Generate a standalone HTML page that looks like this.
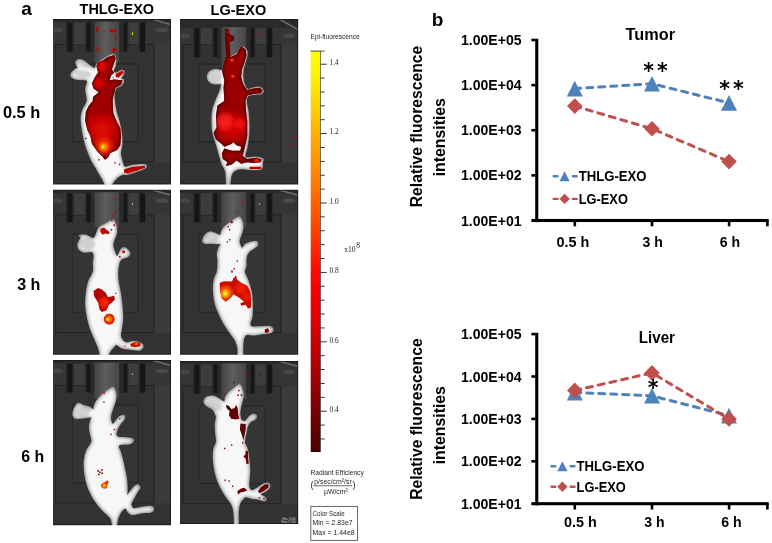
<!DOCTYPE html>
<html><head><meta charset="utf-8"><title>Figure</title>
<style>html,body{margin:0;padding:0;background:#fff;overflow:hidden}svg{display:block}</style></head><body>
<svg width="772" height="543" viewBox="0 0 772 543">
<rect width="772" height="543" fill="#fff"/>
<defs><filter id="blur" x="-5%" y="-5%" width="110%" height="110%"><feGaussianBlur stdDeviation="0.55"/></filter>
<filter id="shade" x="-10%" y="-10%" width="120%" height="120%" color-interpolation-filters="sRGB">
<feGaussianBlur in="SourceAlpha" stdDeviation="2" result="b"/>
<feColorMatrix in="b" type="matrix" values="0 0 0 0.72 0.25  0 0 0 0.72 0.25  0 0 0 0.72 0.25  0 0 0 0 1" result="c"/>
<feComposite in="c" in2="SourceAlpha" operator="in"/>
</filter><filter id="soft" x="-20%" y="-20%" width="140%" height="140%"><feGaussianBlur stdDeviation="0.9"/></filter></defs>
<clipPath id="pc0"><rect x="53.0" y="19.1" width="118.0" height="165.3"/></clipPath>
<g clip-path="url(#pc0)"><g filter="url(#blur)">
<rect x="49.0" y="15.100000000000001" width="126.0" height="173.3" fill="#353535"/>
<rect x="49.0" y="15.100000000000001" width="126.0" height="29.2" fill="#363636"/>
<rect x="49.0" y="15.100000000000001" width="126.0" height="7.2" fill="#2a2a2a"/>
<ellipse cx="162.0" cy="30.1" rx="6.5" ry="2.2" fill="#494949"/>
<ellipse cx="58.0" cy="30.1" rx="5" ry="2.5" fill="#454545"/>
<line x1="153.0" y1="19.6" x2="173.0" y2="25.1" stroke="#6c6c6c" stroke-width="1.6"/>
<rect x="154.00" y="44.30" width="21.00" height="144.10" fill="#3a3a3a"/>
<rect x="55.60" y="44.30" width="98.40" height="117.80" fill="#313131" stroke="#202020" stroke-width="0.9"/>
<rect x="49.00" y="162.50" width="126.00" height="26.90" fill="#303030"/>
<rect x="72.80" y="64.10" width="65.20" height="77.50" fill="#343434" stroke="#262626" stroke-width="0.9"/>
<rect x="73.60" y="22.90" width="11.40" height="21.40" fill="#3c3c3c"/>
<rect x="128.00" y="22.90" width="10.60" height="21.40" fill="#3c3c3c"/>
<rect x="90.50" y="22.90" width="32.10" height="29.20" fill="#2b2b2b"/>
<rect x="66.00" y="22.70" width="7.60" height="29.30" fill="#2a2a2a"/>
<rect x="67.40" y="22.70" width="5.00" height="28.70" fill="#151515"/>
<rect x="85.20" y="22.70" width="6.40" height="29.30" fill="#2a2a2a"/>
<rect x="86.60" y="22.70" width="3.80" height="28.70" fill="#151515"/>
<rect x="122.20" y="22.70" width="6.20" height="29.30" fill="#2a2a2a"/>
<rect x="123.60" y="22.70" width="3.60" height="28.70" fill="#151515"/>
<rect x="138.80" y="22.70" width="7.20" height="29.30" fill="#2a2a2a"/>
<rect x="140.20" y="22.70" width="4.60" height="28.70" fill="#151515"/>
<linearGradient id="u1" x1="0" x2="1" y1="0" y2="0"><stop offset="0" stop-color="#424242"/><stop offset="0.45" stop-color="#5e5e5e"/><stop offset="1" stop-color="#454545"/></linearGradient>
 <rect x="94.30" y="21.60" width="24.8" height="40.30" fill="url(#u1)"/>
<path d="M53.0,19.5 H170.6 V184.0 H53.0" fill="none" stroke="#1c1c1c" stroke-width="1"/>
<path d="M113.38,54.46 C114.65,54.97 115.42,57.52 115.67,59.51 C115.92,61.50 115.37,64.48 114.91,66.39 C114.45,68.30 112.74,69.80 112.92,70.97 C113.10,72.14 114.50,73.52 115.98,73.42 C117.46,73.32 120.47,70.51 121.79,70.36 C123.12,70.21 124.24,71.17 123.93,72.5 C123.62,73.83 121.33,77.39 119.95,78.31 C118.57,79.23 116.84,78.36 115.67,78.0 C114.50,77.64 113.63,76.17 112.92,76.17 C112.21,76.17 111.19,77.52 111.39,78.0 C111.59,78.48 112.20,78.79 114.14,79.07 C116.08,79.35 121.79,78.69 123.01,79.68 C124.23,80.67 122.65,83.63 121.48,85.03 C120.31,86.43 117.25,86.36 115.98,88.09 C114.71,89.82 113.89,91.75 113.84,95.43 C113.79,99.11 114.86,105.93 115.67,110.17 C116.48,114.41 117.84,117.30 118.73,120.87 C119.62,124.44 120.51,127.75 121.02,131.57 C121.53,135.39 121.92,140.23 121.79,143.8 C121.66,147.37 120.26,150.17 120.26,152.97 C120.26,155.77 121.08,158.19 121.79,160.61 C122.50,163.03 122.76,166.67 124.54,167.49 C126.32,168.31 129.13,165.94 132.49,165.51 C135.85,165.08 142.50,164.56 144.72,164.89 C146.94,165.22 146.81,166.55 145.79,167.49 C144.77,168.43 141.58,169.45 138.6,170.55 C135.62,171.65 130.45,173.48 127.9,174.07 C125.35,174.66 124.84,173.71 123.31,174.07 C121.78,174.43 120.26,175.14 118.73,176.21 C117.20,177.28 115.29,179.19 114.14,180.49 C112.99,181.79 112.36,182.98 111.85,184.0 C111.34,185.02 112.11,186.17 111.09,186.6 C110.07,187.03 106.76,187.03 105.74,186.6 C104.72,186.17 105.48,185.27 104.97,184.0 C104.46,182.73 103.95,181.33 102.68,178.96 C101.41,176.59 99.24,173.10 97.33,169.79 C95.42,166.48 93.12,163.17 91.21,159.09 C89.30,155.01 87.26,149.92 85.86,145.33 C84.46,140.74 83.57,135.90 82.81,131.57 C82.05,127.24 81.28,122.91 81.28,119.34 C81.28,115.77 81.79,113.23 82.81,110.17 C83.83,107.11 86.88,104.48 87.39,101.0 C87.90,97.52 85.86,92.79 85.86,89.31 C85.86,85.83 89.05,81.87 87.39,80.14 C85.73,78.41 78.55,79.48 75.93,78.92 C73.31,78.36 72.42,77.65 71.65,76.78 C70.89,75.91 70.88,74.81 71.34,73.72 C71.80,72.62 73.25,71.23 74.4,70.21 C75.55,69.19 77.97,68.76 78.22,67.61 C78.47,66.46 75.93,64.60 75.93,63.33 C75.93,62.06 76.95,60.35 78.22,59.97 C79.49,59.59 81.53,59.97 83.57,61.04 C85.61,62.11 88.54,65.12 90.45,66.39 C92.36,67.66 93.89,69.19 95.04,68.68 C96.19,68.17 95.93,64.86 97.33,63.33 C98.73,61.80 101.66,60.66 103.44,59.51 C105.22,58.36 106.37,57.29 108.03,56.45 C109.69,55.61 112.11,53.95 113.38,54.46Z" fill="#f4f4f4" stroke="#f4f4f4" stroke-width="1.6" stroke-linejoin="round" filter="url(#shade)"/>
<ellipse cx="82.81" cy="74.03" rx="8.41" ry="3.67" transform="rotate(5 82.81 74.03)" fill="#808080" opacity="0.32" filter="url(#soft)"/>
<ellipse cx="83.57" cy="64.55" rx="6.11" ry="2.14" transform="rotate(25 83.57 64.55)" fill="#808080" opacity="0.32" filter="url(#soft)"/>
<clipPath id="u2"><path d="M97.33,62.56 L103.44,60.27 L107.26,57.21 L114.14,54.92 L115.67,58.74 L113.38,64.86 L111.85,69.44 L114.14,72.5 L111.09,75.56 L109.56,80.14 L114.14,79.38 L122.55,80.14 L121.02,84.73 L115.67,87.79 L113.38,95.43 L112.61,100.93 L113.38,113.23 L116.44,120.87 L120.26,128.51 L121.02,136.16 L120.26,145.33 L117.2,149.91 L110.32,152.97 L108.03,157.56 L104.97,159.85 L101.91,156.03 L97.33,151.44 L91.98,143.8 L90.45,136.16 L87.39,130.04 L85.1,120.87 L85.86,111.7 L88.92,105.59 L92.74,101.0 L93.05,96.96 L98.86,92.37 L93.51,88.55 L91.98,83.2 L95.04,77.09 L98.09,72.5 L96.56,66.39Z"/></clipPath>
<path d="M97.33,62.56 L103.44,60.27 L107.26,57.21 L114.14,54.92 L115.67,58.74 L113.38,64.86 L111.85,69.44 L114.14,72.5 L111.09,75.56 L109.56,80.14 L114.14,79.38 L122.55,80.14 L121.02,84.73 L115.67,87.79 L113.38,95.43 L112.61,100.93 L113.38,113.23 L116.44,120.87 L120.26,128.51 L121.02,136.16 L120.26,145.33 L117.2,149.91 L110.32,152.97 L108.03,157.56 L104.97,159.85 L101.91,156.03 L97.33,151.44 L91.98,143.8 L90.45,136.16 L87.39,130.04 L85.1,120.87 L85.86,111.7 L88.92,105.59 L92.74,101.0 L93.05,96.96 L98.86,92.37 L93.51,88.55 L91.98,83.2 L95.04,77.09 L98.09,72.5 L96.56,66.39Z" fill="#a00000"/>
<path d="M97.33,62.56 L103.44,60.27 L107.26,57.21 L114.14,54.92 L115.67,58.74 L113.38,64.86 L111.85,69.44 L114.14,72.5 L111.09,75.56 L109.56,80.14 L114.14,79.38 L122.55,80.14 L121.02,84.73 L115.67,87.79 L113.38,95.43 L112.61,100.93 L113.38,113.23 L116.44,120.87 L120.26,128.51 L121.02,136.16 L120.26,145.33 L117.2,149.91 L110.32,152.97 L108.03,157.56 L104.97,159.85 L101.91,156.03 L97.33,151.44 L91.98,143.8 L90.45,136.16 L87.39,130.04 L85.1,120.87 L85.86,111.7 L88.92,105.59 L92.74,101.0 L93.05,96.96 L98.86,92.37 L93.51,88.55 L91.98,83.2 L95.04,77.09 L98.09,72.5 L96.56,66.39Z" fill="none" stroke="#5a0000" stroke-width="3" stroke-linejoin="round" clip-path="url(#u2)" filter="url(#soft)"/>
<g clip-path="url(#u2)">
<radialGradient id="u3"><stop offset="0" stop-color="#dc0800"/><stop offset="0.5" stop-color="#dc0800" stop-opacity="0.75"/><stop offset="1" stop-color="#dc0800" stop-opacity="0"/></radialGradient>
<circle cx="101.91" cy="130.04" r="19.87" fill="url(#u3)"/>
<radialGradient id="u4"><stop offset="0" stop-color="#ff3000"/><stop offset="0.5" stop-color="#ff3000" stop-opacity="0.75"/><stop offset="1" stop-color="#ff3000" stop-opacity="0"/></radialGradient>
<circle cx="104.21" cy="146.09" r="11.01" fill="url(#u4)"/>
<radialGradient id="u5"><stop offset="0" stop-color="#ff9000"/><stop offset="0.5" stop-color="#ff9000" stop-opacity="0.75"/><stop offset="1" stop-color="#ff9000" stop-opacity="0"/></radialGradient>
<circle cx="103.75" cy="146.86" r="5.81" fill="url(#u5)"/>
<radialGradient id="u6"><stop offset="0" stop-color="#ffee00"/><stop offset="0.5" stop-color="#ffee00" stop-opacity="0.75"/><stop offset="1" stop-color="#ffee00" stop-opacity="0"/></radialGradient>
<circle cx="102.83" cy="146.86" r="2.6" fill="url(#u6)"/>
<radialGradient id="u7"><stop offset="0" stop-color="#e80000"/><stop offset="0.5" stop-color="#e80000" stop-opacity="0.75"/><stop offset="1" stop-color="#e80000" stop-opacity="0"/></radialGradient>
<circle cx="101.91" cy="66.39" r="6.88" fill="url(#u7)"/>
<radialGradient id="u8"><stop offset="0" stop-color="#e00000"/><stop offset="0.5" stop-color="#e00000" stop-opacity="0.75"/><stop offset="1" stop-color="#e00000" stop-opacity="0"/></radialGradient>
<circle cx="98.86" cy="83.2" r="6.88" fill="url(#u8)"/>
</g>
<clipPath id="u9"><path d="M115.67,74.03 L121.79,70.67 L123.62,72.5 L118.73,77.85 L115.67,77.09Z"/></clipPath>
<path d="M115.67,74.03 L121.79,70.67 L123.62,72.5 L118.73,77.85 L115.67,77.09Z" fill="#c00000"/>
<clipPath id="u10"><path d="M124.08,169.33 L132.49,166.73 L144.72,165.66 L145.02,167.8 L137.84,170.55 L127.9,173.61 L124.08,172.84Z"/></clipPath>
<path d="M124.08,169.33 L132.49,166.73 L144.72,165.66 L145.02,167.8 L137.84,170.55 L127.9,173.61 L124.08,172.84Z" fill="#b80000"/>
<clipPath id="u11"><path d="M96.56,26.95 L98.25,26.34 L98.86,29.7 L97.63,33.06 L96.41,31.99Z"/></clipPath>
<path d="M96.56,26.95 L98.25,26.34 L98.86,29.7 L97.63,33.06 L96.41,31.99Z" fill="#c00000"/>
<clipPath id="u12"><path d="M108.79,30.01 L111.85,29.09 L115.98,29.7 L116.59,31.84 L113.38,32.45 L109.86,31.84Z"/></clipPath>
<path d="M108.79,30.01 L111.85,29.09 L115.98,29.7 L116.59,31.84 L113.38,32.45 L109.86,31.84Z" fill="#c00000"/>
<clipPath id="u13"><path d="M114.45,34.29 L115.98,34.9 L116.59,39.18 L115.06,39.79Z"/></clipPath>
<path d="M114.45,34.29 L115.98,34.9 L116.59,39.18 L115.06,39.79Z" fill="#c00000"/>
<clipPath id="u14"><path d="M96.41,46.51 L98.55,47.13 L98.86,51.41 L97.02,52.02Z"/></clipPath>
<path d="M96.41,46.51 L98.55,47.13 L98.86,51.41 L97.02,52.02Z" fill="#c00000"/>
<clipPath id="u15"><path d="M112.61,48.35 L115.98,47.74 L116.59,51.1 L114.14,52.93 L112.31,51.41Z"/></clipPath>
<path d="M112.61,48.35 L115.98,47.74 L116.59,51.1 L114.14,52.93 L112.31,51.41Z" fill="#c00000"/>
<clipPath id="u16"><path d="M103.44,30.46 L104.67,30.46 L104.67,32.76 L103.44,32.76Z"/></clipPath>
<path d="M103.44,30.46 L104.67,30.46 L104.67,32.76 L103.44,32.76Z" fill="#c00000"/>
<clipPath id="u17"><path d="M131.87,32.45 L133.1,32.45 L133.1,34.9 L131.87,34.9Z"/></clipPath>
<path d="M131.87,32.45 L133.1,32.45 L133.1,34.9 L131.87,34.9Z" fill="#e0e000"/>
<rect x="98.16" y="159.15" width="1.4" height="1.4" fill="#900000"/>
<rect x="114.21" y="162.21" width="1.4" height="1.4" fill="#900000"/>
<rect x="118.79" y="163.74" width="1.4" height="1.4" fill="#900000"/>
<rect x="85.16" y="137.75" width="1.4" height="1.4" fill="#900000"/>
</g></g>
<clipPath id="pc1"><rect x="180" y="19.1" width="118.2" height="165.3"/></clipPath>
<g clip-path="url(#pc1)"><g filter="url(#blur)">
<rect x="176" y="15.100000000000001" width="126.2" height="173.3" fill="#353535"/>
<rect x="176" y="15.100000000000001" width="126.2" height="29.2" fill="#363636"/>
<rect x="176" y="15.100000000000001" width="126.2" height="12.8" fill="#2a2a2a"/>
<ellipse cx="289" cy="35.7" rx="6.5" ry="2.2" fill="#494949"/>
<ellipse cx="185" cy="35.7" rx="5" ry="2.5" fill="#454545"/>
<line x1="280" y1="19.6" x2="300.2" y2="30.700000000000003" stroke="#6c6c6c" stroke-width="1.6"/>
<rect x="281.00" y="44.30" width="21.20" height="144.10" fill="#3a3a3a"/>
<rect x="182.60" y="44.30" width="98.40" height="117.80" fill="#313131" stroke="#202020" stroke-width="0.9"/>
<rect x="176.00" y="162.50" width="126.20" height="26.90" fill="#303030"/>
<rect x="199.80" y="64.10" width="65.20" height="77.50" fill="#343434" stroke="#262626" stroke-width="0.9"/>
<rect x="200.60" y="28.50" width="11.40" height="15.80" fill="#3c3c3c"/>
<rect x="255.00" y="28.50" width="10.60" height="15.80" fill="#3c3c3c"/>
<rect x="217.50" y="28.50" width="32.10" height="29.20" fill="#2b2b2b"/>
<rect x="193.00" y="28.30" width="7.60" height="29.30" fill="#2a2a2a"/>
<rect x="194.40" y="28.30" width="5.00" height="28.70" fill="#151515"/>
<rect x="212.20" y="28.30" width="6.40" height="29.30" fill="#2a2a2a"/>
<rect x="213.60" y="28.30" width="3.80" height="28.70" fill="#151515"/>
<rect x="249.20" y="28.30" width="6.20" height="29.30" fill="#2a2a2a"/>
<rect x="250.60" y="28.30" width="3.60" height="28.70" fill="#151515"/>
<rect x="265.80" y="28.30" width="7.20" height="29.30" fill="#2a2a2a"/>
<rect x="267.20" y="28.30" width="4.60" height="28.70" fill="#151515"/>
<linearGradient id="u18" x1="0" x2="1" y1="0" y2="0"><stop offset="0" stop-color="#424242"/><stop offset="0.45" stop-color="#5e5e5e"/><stop offset="1" stop-color="#454545"/></linearGradient>
 <rect x="221.30" y="27.20" width="24.8" height="40.30" fill="url(#u18)"/>
<path d="M180,19.5 H297.8 V184.0 H180" fill="none" stroke="#1c1c1c" stroke-width="1"/>
<path d="M241.14,47.28 C242.72,46.57 245.09,48.17 246.03,49.57 C246.97,50.97 247.05,53.40 246.8,55.69 C246.55,57.98 245.15,61.04 244.51,63.33 C243.87,65.62 243.29,67.15 242.98,69.44 C242.67,71.73 242.47,74.54 242.67,77.09 C242.87,79.64 243.38,82.64 244.2,84.73 C245.01,86.82 246.03,89.06 247.56,89.62 C249.09,90.18 251.38,88.45 253.37,88.09 C255.36,87.73 257.91,87.15 259.49,87.48 C261.07,87.81 262.55,89.09 262.85,90.08 C263.16,91.07 262.90,92.75 261.32,93.44 C259.74,94.13 255.66,93.83 253.37,94.21 C251.08,94.59 248.78,94.61 247.56,95.73 C246.34,96.85 245.95,98.01 246.03,100.93 C246.11,103.85 247.56,108.89 248.02,113.23 C248.48,117.57 248.79,122.66 248.79,126.99 C248.79,131.32 248.40,135.64 248.02,139.21 C247.64,142.78 247.08,145.59 246.49,148.39 C245.91,151.19 244.38,154.38 244.51,156.03 C244.64,157.69 245.53,158.12 247.26,158.32 C248.99,158.52 252.30,157.12 254.9,157.25 C257.50,157.38 261.65,158.28 262.85,159.09 C264.05,159.91 262.33,160.56 262.08,162.14 C261.82,163.72 263.03,167.36 261.32,168.56 C259.61,169.76 255.20,169.33 251.84,169.33 C248.48,169.33 243.94,168.43 241.14,168.56 C238.34,168.69 236.69,169.12 235.03,170.09 C233.38,171.06 232.10,172.05 231.21,174.37 C230.32,176.69 229.94,181.96 229.68,184.0 C229.43,186.04 230.19,186.17 229.68,186.6 C229.17,187.03 227.13,187.03 226.62,186.6 C226.11,186.17 226.75,186.55 226.62,184.0 C226.49,181.45 226.62,174.70 225.86,171.31 C225.10,167.92 223.19,166.73 222.04,163.67 C220.89,160.61 220.00,156.54 218.98,152.97 C217.96,149.40 216.94,145.84 215.92,142.27 C214.90,138.70 213.50,135.14 212.86,131.57 C212.22,128.00 212.10,124.44 212.1,120.87 C212.10,117.30 212.22,113.48 212.86,110.17 C213.50,106.86 214.70,104.22 215.92,101.0 C217.14,97.78 219.23,93.81 220.2,90.84 C221.17,87.87 221.93,84.42 221.73,83.2 C221.53,81.98 220.46,83.46 218.98,83.51 C217.50,83.56 214.52,83.94 212.86,83.51 C211.20,83.08 209.93,82.11 209.04,80.91 C208.15,79.71 207.38,77.85 207.51,76.32 C207.64,74.79 208.41,72.89 209.81,71.74 C211.21,70.59 213.88,69.62 215.92,69.44 C217.96,69.26 220.64,71.43 222.04,70.67 C223.44,69.91 223.69,66.97 224.33,64.86 C224.97,62.74 224.84,59.30 225.86,57.98 C226.88,56.65 228.66,57.60 230.44,56.91 C232.22,56.22 234.78,55.45 236.56,53.85 C238.34,52.25 239.56,47.99 241.14,47.28Z" fill="#f4f4f4" stroke="#f4f4f4" stroke-width="1.6" stroke-linejoin="round" filter="url(#shade)"/>
<ellipse cx="215.92" cy="76.78" rx="6.42" ry="5.20" transform="rotate(0 215.92 76.78)" fill="#808080" opacity="0.32" filter="url(#soft)"/>
<clipPath id="u19"><path d="M225.09,28.94 L228.91,29.39 L229.22,34.29 L234.26,36.58 L233.5,40.4 L229.22,41.93 L229.98,49.57 L230.44,57.21 L236.56,54.16 L238.85,49.57 L241.14,46.51 L245.73,49.57 L246.49,55.69 L244.2,63.33 L241.91,69.44 L241.14,77.09 L243.44,84.73 L247.26,90.08 L253.37,88.55 L259.49,87.79 L262.54,90.08 L261.01,93.14 L253.37,93.9 L247.26,95.43 L245.42,100.93 L245.73,108.64 L247.26,120.87 L247.26,136.16 L244.96,146.86 L242.67,156.03 L247.26,159.09 L256.43,157.86 L261.78,159.85 L260.25,162.14 L253.37,162.91 L247.26,162.14 L241.14,163.67 L236.56,160.61 L231.97,164.44 L225.86,165.96 L227.39,162.14 L222.8,159.09 L222.04,152.97 L224.33,148.39 L231.97,150.68 L240.38,150.68 L241.14,146.86 L236.56,145.33 L233.5,142.27 L230.44,144.56 L224.33,146.86 L221.27,143.8 L215.92,139.21 L213.63,133.1 L216.69,126.99 L215.92,116.29 L217.45,105.59 L224.33,101.0 L223.56,87.79 L224.33,80.14 L222.04,70.97 L225.09,57.98 L226.62,56.45 L225.86,51.86 L225.4,41.93 L225.09,34.29Z"/></clipPath>
<path d="M225.09,28.94 L228.91,29.39 L229.22,34.29 L234.26,36.58 L233.5,40.4 L229.22,41.93 L229.98,49.57 L230.44,57.21 L236.56,54.16 L238.85,49.57 L241.14,46.51 L245.73,49.57 L246.49,55.69 L244.2,63.33 L241.91,69.44 L241.14,77.09 L243.44,84.73 L247.26,90.08 L253.37,88.55 L259.49,87.79 L262.54,90.08 L261.01,93.14 L253.37,93.9 L247.26,95.43 L245.42,100.93 L245.73,108.64 L247.26,120.87 L247.26,136.16 L244.96,146.86 L242.67,156.03 L247.26,159.09 L256.43,157.86 L261.78,159.85 L260.25,162.14 L253.37,162.91 L247.26,162.14 L241.14,163.67 L236.56,160.61 L231.97,164.44 L225.86,165.96 L227.39,162.14 L222.8,159.09 L222.04,152.97 L224.33,148.39 L231.97,150.68 L240.38,150.68 L241.14,146.86 L236.56,145.33 L233.5,142.27 L230.44,144.56 L224.33,146.86 L221.27,143.8 L215.92,139.21 L213.63,133.1 L216.69,126.99 L215.92,116.29 L217.45,105.59 L224.33,101.0 L223.56,87.79 L224.33,80.14 L222.04,70.97 L225.09,57.98 L226.62,56.45 L225.86,51.86 L225.4,41.93 L225.09,34.29Z" fill="#980000"/>
<path d="M225.09,28.94 L228.91,29.39 L229.22,34.29 L234.26,36.58 L233.5,40.4 L229.22,41.93 L229.98,49.57 L230.44,57.21 L236.56,54.16 L238.85,49.57 L241.14,46.51 L245.73,49.57 L246.49,55.69 L244.2,63.33 L241.91,69.44 L241.14,77.09 L243.44,84.73 L247.26,90.08 L253.37,88.55 L259.49,87.79 L262.54,90.08 L261.01,93.14 L253.37,93.9 L247.26,95.43 L245.42,100.93 L245.73,108.64 L247.26,120.87 L247.26,136.16 L244.96,146.86 L242.67,156.03 L247.26,159.09 L256.43,157.86 L261.78,159.85 L260.25,162.14 L253.37,162.91 L247.26,162.14 L241.14,163.67 L236.56,160.61 L231.97,164.44 L225.86,165.96 L227.39,162.14 L222.8,159.09 L222.04,152.97 L224.33,148.39 L231.97,150.68 L240.38,150.68 L241.14,146.86 L236.56,145.33 L233.5,142.27 L230.44,144.56 L224.33,146.86 L221.27,143.8 L215.92,139.21 L213.63,133.1 L216.69,126.99 L215.92,116.29 L217.45,105.59 L224.33,101.0 L223.56,87.79 L224.33,80.14 L222.04,70.97 L225.09,57.98 L226.62,56.45 L225.86,51.86 L225.4,41.93 L225.09,34.29Z" fill="none" stroke="#560000" stroke-width="3" stroke-linejoin="round" clip-path="url(#u19)" filter="url(#soft)"/>
<g clip-path="url(#u19)">
<radialGradient id="u20"><stop offset="0" stop-color="#d40000"/><stop offset="0.5" stop-color="#d40000" stop-opacity="0.75"/><stop offset="1" stop-color="#d40000" stop-opacity="0"/></radialGradient>
<circle cx="231.97" cy="126.99" r="18.34" fill="url(#u20)"/>
<radialGradient id="u21"><stop offset="0" stop-color="#ff2020"/><stop offset="0.5" stop-color="#ff2020" stop-opacity="0.75"/><stop offset="1" stop-color="#ff2020" stop-opacity="0"/></radialGradient>
<circle cx="225.09" cy="121.64" r="11.01" fill="url(#u21)"/>
<radialGradient id="u22"><stop offset="0" stop-color="#f01010"/><stop offset="0.5" stop-color="#f01010" stop-opacity="0.75"/><stop offset="1" stop-color="#f01010" stop-opacity="0"/></radialGradient>
<circle cx="239.61" cy="123.93" r="7.34" fill="url(#u22)"/>
<radialGradient id="u23"><stop offset="0" stop-color="#ff2000"/><stop offset="0.5" stop-color="#ff2000" stop-opacity="0.75"/><stop offset="1" stop-color="#ff2000" stop-opacity="0"/></radialGradient>
<circle cx="256.43" cy="160.61" r="3.06" fill="url(#u23)"/>
<radialGradient id="u24"><stop offset="0" stop-color="#ff3030"/><stop offset="0.5" stop-color="#ff3030" stop-opacity="0.75"/><stop offset="1" stop-color="#ff3030" stop-opacity="0"/></radialGradient>
<circle cx="231.97" cy="59.97" r="2.45" fill="url(#u24)"/>
<radialGradient id="u25"><stop offset="0" stop-color="#ff3030"/><stop offset="0.5" stop-color="#ff3030" stop-opacity="0.75"/><stop offset="1" stop-color="#ff3030" stop-opacity="0"/></radialGradient>
<circle cx="232.74" cy="76.32" r="2.45" fill="url(#u25)"/>
<radialGradient id="u26"><stop offset="0" stop-color="#e00000"/><stop offset="0.5" stop-color="#e00000" stop-opacity="0.75"/><stop offset="1" stop-color="#e00000" stop-opacity="0"/></radialGradient>
<circle cx="227.39" cy="31.99" r="1.83" fill="url(#u26)"/>
</g>
<clipPath id="u27"><path d="M249.55,166.73 L261.01,166.73 L261.01,169.02 L249.55,169.02Z"/></clipPath>
<path d="M249.55,166.73 L261.01,166.73 L261.01,169.02 L249.55,169.02Z" fill="#c00000"/>
<rect x="258.59" y="33.08" width="1.8" height="1.8" fill="#d00000"/>
<rect x="296.04" y="136.48" width="1.8" height="1.8" fill="#c00000"/>
<rect x="291.45" y="143.66" width="1.8" height="1.8" fill="#c00000"/>
</g></g>
<clipPath id="pc2"><rect x="53.0" y="189.7" width="118.0" height="165.1"/></clipPath>
<g clip-path="url(#pc2)"><g filter="url(#blur)">
<rect x="49.0" y="185.7" width="126.0" height="173.1" fill="#353535"/>
<rect x="49.0" y="185.7" width="126.0" height="29.2" fill="#363636"/>
<rect x="49.0" y="185.7" width="126.0" height="7.2" fill="#2a2a2a"/>
<ellipse cx="162.0" cy="200.7" rx="6.5" ry="2.2" fill="#494949"/>
<ellipse cx="58.0" cy="200.7" rx="5" ry="2.5" fill="#454545"/>
<line x1="153.0" y1="190.2" x2="173.0" y2="195.7" stroke="#6c6c6c" stroke-width="1.6"/>
<rect x="154.00" y="214.90" width="21.00" height="143.90" fill="#3a3a3a"/>
<rect x="55.60" y="214.90" width="98.40" height="117.80" fill="#313131" stroke="#202020" stroke-width="0.9"/>
<rect x="49.00" y="333.10" width="126.00" height="26.70" fill="#303030"/>
<rect x="72.80" y="234.70" width="65.20" height="77.50" fill="#343434" stroke="#262626" stroke-width="0.9"/>
<rect x="73.60" y="193.50" width="11.40" height="21.40" fill="#3c3c3c"/>
<rect x="128.00" y="193.50" width="10.60" height="21.40" fill="#3c3c3c"/>
<rect x="90.50" y="193.50" width="32.10" height="29.20" fill="#2b2b2b"/>
<rect x="66.00" y="193.30" width="7.60" height="29.30" fill="#2a2a2a"/>
<rect x="67.40" y="193.30" width="5.00" height="28.70" fill="#151515"/>
<rect x="85.20" y="193.30" width="6.40" height="29.30" fill="#2a2a2a"/>
<rect x="86.60" y="193.30" width="3.80" height="28.70" fill="#151515"/>
<rect x="122.20" y="193.30" width="6.20" height="29.30" fill="#2a2a2a"/>
<rect x="123.60" y="193.30" width="3.60" height="28.70" fill="#151515"/>
<rect x="138.80" y="193.30" width="7.20" height="29.30" fill="#2a2a2a"/>
<rect x="140.20" y="193.30" width="4.60" height="28.70" fill="#151515"/>
<linearGradient id="u28" x1="0" x2="1" y1="0" y2="0"><stop offset="0" stop-color="#424242"/><stop offset="0.45" stop-color="#5e5e5e"/><stop offset="1" stop-color="#454545"/></linearGradient>
 <rect x="94.30" y="192.20" width="24.8" height="35.50" fill="url(#u28)"/>
<path d="M53.0,190.1 H170.6 V354.4 H53.0" fill="none" stroke="#1c1c1c" stroke-width="1"/>
<path d="M112.92,219.81 C113.94,220.37 115.08,223.00 115.67,225.16 C116.26,227.32 116.69,230.51 116.44,232.8 C116.19,235.09 114.78,236.87 114.14,238.91 C113.50,240.95 112.61,242.99 112.61,245.03 C112.61,247.07 113.38,249.15 114.14,251.14 C114.91,253.13 116.05,257.20 117.2,256.95 C118.35,256.69 119.87,251.14 121.02,249.61 C122.17,248.08 122.93,247.65 124.08,247.78 C125.23,247.91 126.96,249.31 127.9,250.38 C128.84,251.45 129.98,253.05 129.73,254.2 C129.47,255.35 127.69,256.57 126.37,257.26 C125.05,257.95 123.01,257.51 121.79,258.33 C120.57,259.14 119.74,259.88 119.03,262.15 C118.32,264.42 117.69,268.76 117.51,271.93 C117.33,275.10 117.50,277.59 117.96,281.17 C118.42,284.75 119.62,289.32 120.26,293.4 C120.90,297.48 121.41,301.55 121.79,305.63 C122.17,309.71 122.68,313.78 122.55,317.86 C122.42,321.94 121.40,327.03 121.02,330.09 C120.64,333.15 120.01,334.42 120.26,336.2 C120.52,337.98 121.53,339.64 122.55,340.79 C123.57,341.94 124.46,342.95 126.37,343.08 C128.28,343.21 131.46,341.42 134.01,341.55 C136.56,341.68 140.21,342.95 141.66,343.84 C143.11,344.73 142.98,345.88 142.73,346.9 C142.47,347.92 141.84,349.58 140.13,349.96 C138.42,350.34 135.55,349.57 132.49,349.19 C129.43,348.81 124.47,348.50 121.79,347.66 C119.12,346.82 117.84,344.28 116.44,344.15 C115.04,344.02 114.53,345.68 113.38,346.9 C112.23,348.12 110.45,350.14 109.56,351.49 C108.67,352.84 108.34,353.98 108.03,355.0 C107.72,356.02 108.94,357.17 107.72,357.6 C106.50,358.03 101.91,358.03 100.69,357.6 C99.47,357.17 100.69,356.53 100.39,355.0 C100.09,353.47 99.75,351.05 98.86,348.43 C97.97,345.81 96.44,342.57 95.04,339.26 C93.64,335.95 91.73,332.38 90.45,328.56 C89.17,324.74 88.16,320.41 87.39,316.33 C86.62,312.25 85.99,308.18 85.86,304.1 C85.73,300.02 86.12,295.69 86.63,291.87 C87.14,288.05 87.77,284.48 88.92,281.17 C90.07,277.86 92.75,274.97 93.51,272.0 C94.28,269.03 93.38,266.08 93.51,263.37 C93.64,260.66 94.45,257.72 94.27,255.73 C94.09,253.74 94.22,252.09 92.44,251.45 C90.66,250.81 85.81,252.34 83.57,251.91 C81.33,251.48 79.88,250.25 78.99,248.85 C78.10,247.45 77.84,245.36 78.22,243.5 C78.60,241.64 81.08,239.01 81.28,237.69 C81.48,236.37 78.68,235.93 79.44,235.55 C80.20,235.17 83.59,234.84 85.86,235.4 C88.13,235.96 91.39,238.83 93.05,238.91 C94.71,238.99 94.83,237.64 95.8,235.86 C96.77,234.08 97.33,230.12 98.86,228.21 C100.39,226.30 103.19,225.46 104.97,224.39 C106.75,223.32 108.23,222.55 109.56,221.79 C110.89,221.03 111.90,219.25 112.92,219.81Z" fill="#f4f4f4" stroke="#f4f4f4" stroke-width="1.6" stroke-linejoin="round" filter="url(#shade)"/>
<ellipse cx="87.39" cy="243.81" rx="7.95" ry="5.81" transform="rotate(10 87.39 243.81)" fill="#808080" opacity="0.32" filter="url(#soft)"/>
<clipPath id="u29"><path d="M100.39,228.98 L104.21,227.45 L106.5,230.05 L109.56,232.04 L108.79,234.33 L104.97,233.56 L102.68,234.79 L100.39,232.04Z"/></clipPath>
<path d="M100.39,228.98 L104.21,227.45 L106.5,230.05 L109.56,232.04 L108.79,234.33 L104.97,233.56 L102.68,234.79 L100.39,232.04Z" fill="#b80000"/>
<g clip-path="url(#u29)">
<radialGradient id="u30"><stop offset="0" stop-color="#f00000"/><stop offset="0.5" stop-color="#f00000" stop-opacity="0.75"/><stop offset="1" stop-color="#f00000" stop-opacity="0"/></radialGradient>
<circle cx="103.44" cy="230.97" r="2.14" fill="url(#u30)"/>
</g>
<clipPath id="u31"><path d="M93.51,291.11 L98.09,288.05 L101.91,289.58 L105.74,292.64 L108.03,297.22 L114.14,295.69 L114.91,299.51 L111.85,302.57 L108.79,304.86 L106.5,310.21 L101.91,312.05 L99.62,309.45 L98.09,302.57 L94.27,296.46Z"/></clipPath>
<path d="M93.51,291.11 L98.09,288.05 L101.91,289.58 L105.74,292.64 L108.03,297.22 L114.14,295.69 L114.91,299.51 L111.85,302.57 L108.79,304.86 L106.5,310.21 L101.91,312.05 L99.62,309.45 L98.09,302.57 L94.27,296.46Z" fill="#b40000"/>
<g clip-path="url(#u31)">
<radialGradient id="u32"><stop offset="0" stop-color="#ff2800"/><stop offset="0.5" stop-color="#ff2800" stop-opacity="0.75"/><stop offset="1" stop-color="#ff2800" stop-opacity="0"/></radialGradient>
<circle cx="104.21" cy="302.57" r="7.34" fill="url(#u32)"/>
</g>
<clipPath id="u33"><path d="M114.75,319.08 L114.21,321.47 L112.68,323.38 L110.48,324.45 L108.03,324.45 L105.82,323.38 L104.29,321.47 L103.75,319.08 L104.29,316.69 L105.82,314.78 L108.03,313.72 L110.48,313.72 L112.68,314.78 L114.21,316.69Z"/></clipPath>
<path d="M114.75,319.08 L114.21,321.47 L112.68,323.38 L110.48,324.45 L108.03,324.45 L105.82,323.38 L104.29,321.47 L103.75,319.08 L104.29,316.69 L105.82,314.78 L108.03,313.72 L110.48,313.72 L112.68,314.78 L114.21,316.69Z" fill="#e02000"/>
<g clip-path="url(#u33)">
<radialGradient id="u34"><stop offset="0" stop-color="#ff9000"/><stop offset="0.5" stop-color="#ff9000" stop-opacity="0.75"/><stop offset="1" stop-color="#ff9000" stop-opacity="0"/></radialGradient>
<circle cx="108.79" cy="319.08" r="4.28" fill="url(#u34)"/>
<radialGradient id="u35"><stop offset="0" stop-color="#fff000"/><stop offset="0.5" stop-color="#fff000" stop-opacity="0.75"/><stop offset="1" stop-color="#fff000" stop-opacity="0"/></radialGradient>
<circle cx="107.57" cy="319.39" r="1.83" fill="url(#u35)"/>
</g>
<clipPath id="u36"><path d="M130.19,344.15 L135.54,341.55 L140.44,343.08 L140.44,346.14 L135.54,347.21 L130.96,346.44Z"/></clipPath>
<path d="M130.19,344.15 L135.54,341.55 L140.44,343.08 L140.44,346.14 L135.54,347.21 L130.96,346.44Z" fill="#c81000"/>
<g clip-path="url(#u36)">
<radialGradient id="u37"><stop offset="0" stop-color="#ff9000"/><stop offset="0.5" stop-color="#ff9000" stop-opacity="0.75"/><stop offset="1" stop-color="#ff9000" stop-opacity="0"/></radialGradient>
<circle cx="136.31" cy="343.84" r="2.14" fill="url(#u37)"/>
</g>
<rect x="114.57" y="198.37" width="1.6" height="1.6" fill="#c00000"/>
<rect x="114.11" y="211.36" width="1.6" height="1.6" fill="#c00000"/>
<rect x="111.81" y="214.88" width="1.6" height="1.6" fill="#c00000"/>
<rect x="111.05" y="219.77" width="1.6" height="1.6" fill="#c00000"/>
<rect x="113.34" y="224.36" width="1.6" height="1.6" fill="#c00000"/>
<rect x="110.59" y="228.94" width="1.6" height="1.6" fill="#c00000"/>
<rect x="119.00" y="256.00" width="1.6" height="1.6" fill="#c00000"/>
<rect x="122.32" y="250.61" width="2.6" height="2.6" fill="#c00000"/>
<rect x="115.07" y="292.80" width="1.2" height="1.2" fill="#c00000"/>
<rect x="124.24" y="345.54" width="1.2" height="1.2" fill="#c00000"/>
<rect x="131.89" y="203.46" width="1.2" height="1.2" fill="#ddd"/>
</g></g>
<clipPath id="pc3"><rect x="180" y="189.7" width="118.2" height="165.1"/></clipPath>
<g clip-path="url(#pc3)"><g filter="url(#blur)">
<rect x="176" y="185.7" width="126.2" height="173.1" fill="#353535"/>
<rect x="176" y="185.7" width="126.2" height="29.2" fill="#363636"/>
<rect x="176" y="185.7" width="126.2" height="7.2" fill="#2a2a2a"/>
<ellipse cx="289" cy="200.7" rx="6.5" ry="2.2" fill="#494949"/>
<ellipse cx="185" cy="200.7" rx="5" ry="2.5" fill="#454545"/>
<line x1="280" y1="190.2" x2="300.2" y2="195.7" stroke="#6c6c6c" stroke-width="1.6"/>
<rect x="281.00" y="214.90" width="21.20" height="143.90" fill="#3a3a3a"/>
<rect x="182.60" y="214.90" width="98.40" height="117.80" fill="#313131" stroke="#202020" stroke-width="0.9"/>
<rect x="176.00" y="333.10" width="126.20" height="26.70" fill="#303030"/>
<rect x="199.80" y="234.70" width="65.20" height="77.50" fill="#343434" stroke="#262626" stroke-width="0.9"/>
<rect x="200.60" y="193.50" width="11.40" height="21.40" fill="#3c3c3c"/>
<rect x="255.00" y="193.50" width="10.60" height="21.40" fill="#3c3c3c"/>
<rect x="217.50" y="193.50" width="32.10" height="29.20" fill="#2b2b2b"/>
<rect x="193.00" y="193.30" width="7.60" height="29.30" fill="#2a2a2a"/>
<rect x="194.40" y="193.30" width="5.00" height="28.70" fill="#151515"/>
<rect x="212.20" y="193.30" width="6.40" height="29.30" fill="#2a2a2a"/>
<rect x="213.60" y="193.30" width="3.80" height="28.70" fill="#151515"/>
<rect x="249.20" y="193.30" width="6.20" height="29.30" fill="#2a2a2a"/>
<rect x="250.60" y="193.30" width="3.60" height="28.70" fill="#151515"/>
<rect x="265.80" y="193.30" width="7.20" height="29.30" fill="#2a2a2a"/>
<rect x="267.20" y="193.30" width="4.60" height="28.70" fill="#151515"/>
<linearGradient id="u38" x1="0" x2="1" y1="0" y2="0"><stop offset="0" stop-color="#424242"/><stop offset="0.45" stop-color="#5e5e5e"/><stop offset="1" stop-color="#454545"/></linearGradient>
 <rect x="221.30" y="192.20" width="24.8" height="35.50" fill="url(#u38)"/>
<path d="M180,190.1 H297.8 V354.4 H180" fill="none" stroke="#1c1c1c" stroke-width="1"/>
<path d="M239.61,217.21 C240.50,217.72 241.40,219.51 241.91,221.34 C242.42,223.17 242.80,226.05 242.67,228.21 C242.54,230.38 241.78,232.29 241.14,234.33 C240.50,236.37 238.98,238.40 238.85,240.44 C238.72,242.48 239.82,245.16 240.38,246.56 C240.94,247.96 241.32,249.23 242.21,248.85 C243.10,248.47 244.12,245.41 245.73,244.26 C247.33,243.11 250.06,242.40 251.84,241.97 C253.62,241.54 255.49,241.16 256.43,241.67 C257.37,242.18 258.01,243.91 257.5,245.03 C256.99,246.15 254.82,247.32 253.37,248.39 C251.92,249.46 250.01,249.97 248.79,251.45 C247.57,252.93 246.54,254.76 246.03,257.26 C245.52,259.76 246.03,263.97 245.73,266.43 C245.42,268.89 243.82,269.54 244.2,272.0 C244.58,274.46 246.87,277.86 248.02,281.17 C249.17,284.48 250.39,288.05 251.08,291.87 C251.77,295.69 252.02,300.02 252.15,304.1 C252.28,308.18 252.27,313.02 251.84,316.33 C251.41,319.64 249.55,322.19 249.55,323.97 C249.55,325.75 250.18,326.52 251.84,327.03 C253.50,327.54 256.43,327.08 259.49,327.03 C262.55,326.98 267.97,326.34 270.19,326.72 C272.41,327.10 272.61,328.38 272.79,329.32 C272.97,330.26 272.97,331.69 271.26,332.38 C269.55,333.07 265.52,333.02 262.54,333.45 C259.56,333.88 255.92,334.85 253.37,334.98 C250.82,335.11 248.79,333.95 247.26,334.21 C245.73,334.46 244.96,334.90 244.2,336.51 C243.44,338.12 242.92,340.76 242.67,343.84 C242.41,346.92 242.67,352.71 242.67,355.0 C242.67,357.29 243.43,357.17 242.67,357.6 C241.91,358.03 238.85,358.03 238.09,357.6 C237.33,357.17 238.09,356.53 238.09,355.0 C238.09,353.47 238.47,350.80 238.09,348.43 C237.71,346.06 237.06,343.34 235.79,340.79 C234.51,338.24 232.35,335.94 230.44,333.14 C228.53,330.34 226.24,327.28 224.33,323.97 C222.42,320.66 220.51,316.84 218.98,313.27 C217.45,309.70 216.05,306.39 215.16,302.57 C214.27,298.75 213.76,294.16 213.63,290.34 C213.50,286.52 213.75,282.70 214.39,279.64 C215.03,276.58 216.81,274.97 217.45,272.0 C218.09,269.03 218.21,264.81 218.21,261.84 C218.21,258.87 217.32,256.49 217.45,254.2 C217.58,251.91 218.34,249.82 218.98,248.09 C219.62,246.36 222.67,244.65 221.27,243.81 C219.87,242.97 213.37,243.17 210.57,243.04 C207.77,242.91 205.73,243.47 204.46,243.04 C203.19,242.61 202.68,241.89 202.93,240.44 C203.19,238.99 204.72,235.73 205.99,234.33 C207.26,232.93 208.79,232.04 210.57,232.04 C212.35,232.04 215.03,233.69 216.69,234.33 C218.35,234.97 219.62,236.50 220.51,235.86 C221.40,235.22 221.15,232.17 222.04,230.51 C222.93,228.85 224.21,227.45 225.86,225.92 C227.52,224.39 230.19,222.61 231.97,221.34 C233.75,220.07 235.29,218.97 236.56,218.28 C237.83,217.59 238.72,216.70 239.61,217.21Z" fill="#f4f4f4" stroke="#f4f4f4" stroke-width="1.6" stroke-linejoin="round" filter="url(#shade)"/>
<ellipse cx="211.79" cy="238.15" rx="7.64" ry="3.97" transform="rotate(10 211.79 238.15)" fill="#808080" opacity="0.32" filter="url(#soft)"/>
<clipPath id="u39"><path d="M219.74,282.7 L224.33,281.17 L231.97,281.48 L233.5,278.11 L235.79,276.59 L237.32,279.64 L241.14,282.7 L247.26,285.76 L250.31,291.87 L251.08,299.51 L251.08,307.16 L248.02,308.69 L245.73,304.86 L241.14,305.63 L240.38,303.34 L244.2,301.81 L239.61,297.99 L233.5,294.16 L230.44,297.99 L225.86,301.81 L222.04,298.75 L220.05,291.87Z"/></clipPath>
<path d="M219.74,282.7 L224.33,281.17 L231.97,281.48 L233.5,278.11 L235.79,276.59 L237.32,279.64 L241.14,282.7 L247.26,285.76 L250.31,291.87 L251.08,299.51 L251.08,307.16 L248.02,308.69 L245.73,304.86 L241.14,305.63 L240.38,303.34 L244.2,301.81 L239.61,297.99 L233.5,294.16 L230.44,297.99 L225.86,301.81 L222.04,298.75 L220.05,291.87Z" fill="#c80a00"/>
<g clip-path="url(#u39)">
<radialGradient id="u40"><stop offset="0" stop-color="#f42000"/><stop offset="0.5" stop-color="#f42000" stop-opacity="0.75"/><stop offset="1" stop-color="#f42000" stop-opacity="0"/></radialGradient>
<circle cx="241.14" cy="288.05" r="8.41" fill="url(#u40)"/>
<radialGradient id="u41"><stop offset="0" stop-color="#f01800"/><stop offset="0.5" stop-color="#f01800" stop-opacity="0.75"/><stop offset="1" stop-color="#f01800" stop-opacity="0"/></radialGradient>
<circle cx="246.49" cy="297.22" r="5.35" fill="url(#u41)"/>
<radialGradient id="u42"><stop offset="0" stop-color="#ff6a00"/><stop offset="0.5" stop-color="#ff6a00" stop-opacity="0.75"/><stop offset="1" stop-color="#ff6a00" stop-opacity="0"/></radialGradient>
<circle cx="225.55" cy="293.09" r="9.48" fill="url(#u42)"/>
<radialGradient id="u43"><stop offset="0" stop-color="#ffc000"/><stop offset="0.5" stop-color="#ffc000" stop-opacity="0.75"/><stop offset="1" stop-color="#ffc000" stop-opacity="0"/></radialGradient>
<circle cx="225.4" cy="293.4" r="5.2" fill="url(#u43)"/>
<radialGradient id="u44"><stop offset="0" stop-color="#ffff30"/><stop offset="0.5" stop-color="#ffff30" stop-opacity="0.75"/><stop offset="1" stop-color="#ffff30" stop-opacity="0"/></radialGradient>
<circle cx="225.25" cy="293.71" r="2.45" fill="url(#u44)"/>
</g>
<clipPath id="u45"><path d="M264.84,329.32 L267.89,328.25 L269.42,330.85 L267.13,333.14 L264.84,332.38Z"/></clipPath>
<path d="M264.84,329.32 L267.89,328.25 L269.42,330.85 L267.13,333.14 L264.84,332.38Z" fill="#900000"/>
<rect x="227.45" y="225.99" width="1.4" height="1.4" fill="#b00000"/>
<rect x="228.98" y="229.04" width="1.4" height="1.4" fill="#b00000"/>
<rect x="226.69" y="241.27" width="1.4" height="1.4" fill="#b00000"/>
<rect x="228.98" y="238.98" width="1.4" height="1.4" fill="#b00000"/>
<rect x="236.62" y="260.38" width="1.4" height="1.4" fill="#b00000"/>
<rect x="233.56" y="268.02" width="1.4" height="1.4" fill="#b00000"/>
<rect x="231.27" y="270.31" width="1.4" height="1.4" fill="#b00000"/>
<rect x="236.62" y="211.46" width="1.4" height="1.4" fill="#b00000"/>
<rect x="241.67" y="200.76" width="1.4" height="1.4" fill="#b00000"/>
<rect x="230.57" y="221.00" width="2.2" height="2.2" fill="#b00000"/>
<rect x="231.27" y="271.30" width="1.4" height="1.4" fill="#b00000"/>
<rect x="235.09" y="275.89" width="1.4" height="1.4" fill="#b00000"/>
<rect x="258.89" y="203.46" width="1.2" height="1.2" fill="#ccc"/>
</g></g>
<clipPath id="pc4"><rect x="53.0" y="360.1" width="118.0" height="165.1"/></clipPath>
<g clip-path="url(#pc4)"><g filter="url(#blur)">
<rect x="49.0" y="356.1" width="126.0" height="173.1" fill="#353535"/>
<rect x="49.0" y="356.1" width="126.0" height="29.2" fill="#363636"/>
<rect x="49.0" y="356.1" width="126.0" height="7.2" fill="#2a2a2a"/>
<ellipse cx="162.0" cy="371.1" rx="6.5" ry="2.2" fill="#494949"/>
<ellipse cx="58.0" cy="371.1" rx="5" ry="2.5" fill="#454545"/>
<line x1="153.0" y1="360.6" x2="173.0" y2="366.1" stroke="#6c6c6c" stroke-width="1.6"/>
<rect x="154.00" y="385.30" width="21.00" height="143.90" fill="#3a3a3a"/>
<rect x="55.60" y="385.30" width="98.40" height="117.80" fill="#313131" stroke="#202020" stroke-width="0.9"/>
<rect x="49.00" y="503.50" width="126.00" height="26.70" fill="#303030"/>
<rect x="72.80" y="405.10" width="65.20" height="77.50" fill="#343434" stroke="#262626" stroke-width="0.9"/>
<rect x="73.60" y="363.90" width="11.40" height="21.40" fill="#3c3c3c"/>
<rect x="128.00" y="363.90" width="10.60" height="21.40" fill="#3c3c3c"/>
<rect x="90.50" y="363.90" width="32.10" height="29.20" fill="#2b2b2b"/>
<rect x="66.00" y="363.70" width="7.60" height="29.30" fill="#2a2a2a"/>
<rect x="67.40" y="363.70" width="5.00" height="28.70" fill="#151515"/>
<rect x="85.20" y="363.70" width="6.40" height="29.30" fill="#2a2a2a"/>
<rect x="86.60" y="363.70" width="3.80" height="28.70" fill="#151515"/>
<rect x="122.20" y="363.70" width="6.20" height="29.30" fill="#2a2a2a"/>
<rect x="123.60" y="363.70" width="3.60" height="28.70" fill="#151515"/>
<rect x="138.80" y="363.70" width="7.20" height="29.30" fill="#2a2a2a"/>
<rect x="140.20" y="363.70" width="4.60" height="28.70" fill="#151515"/>
<linearGradient id="u46" x1="0" x2="1" y1="0" y2="0"><stop offset="0" stop-color="#424242"/><stop offset="0.45" stop-color="#5e5e5e"/><stop offset="1" stop-color="#454545"/></linearGradient>
 <rect x="94.30" y="362.60" width="24.8" height="35.50" fill="url(#u46)"/>
<path d="M53.0,360.5 H170.6 V524.8000000000001 H53.0" fill="none" stroke="#1c1c1c" stroke-width="1"/>
<path d="M113.38,387.51 C114.22,388.02 114.99,390.32 115.37,392.1 C115.75,393.88 115.88,396.17 115.67,398.21 C115.47,400.25 114.78,402.29 114.14,404.33 C113.50,406.37 112.49,408.40 111.85,410.44 C111.21,412.48 110.45,414.52 110.32,416.56 C110.19,418.60 110.58,421.35 111.09,422.67 C111.60,424.00 112.36,425.02 113.38,424.51 C114.40,424.00 116.05,420.94 117.2,419.61 C118.35,418.29 119.06,417.17 120.26,416.56 C121.46,415.95 123.82,415.44 124.38,415.95 C124.94,416.46 124.31,418.36 123.62,419.61 C122.93,420.86 121.33,421.91 120.26,423.44 C119.19,424.97 117.97,426.88 117.2,428.79 C116.44,430.70 115.42,433.42 115.67,434.9 C115.92,436.38 116.95,437.14 118.73,437.65 C120.51,438.16 124.03,437.70 126.37,437.96 C128.71,438.21 131.77,438.51 132.79,439.18 C133.81,439.85 133.05,441.23 132.49,442.0 C131.93,442.77 131.47,443.47 129.43,443.83 C127.39,444.19 122.17,443.68 120.26,444.14 C118.35,444.60 118.01,445.42 117.96,446.59 C117.91,447.76 119.19,448.88 119.95,451.17 C120.72,453.46 121.73,457.03 122.55,460.34 C123.36,463.65 124.15,467.47 124.84,471.04 C125.53,474.61 126.37,478.17 126.68,481.74 C126.99,485.31 126.89,489.74 126.68,492.44 C126.48,495.14 124.99,497.82 125.45,497.95 C125.91,498.08 128.00,494.99 129.43,493.21 C130.86,491.43 132.69,488.65 134.01,487.25 C135.33,485.85 136.41,484.75 137.38,484.8 C138.35,484.85 139.97,486.23 139.82,487.55 C139.67,488.88 137.68,490.66 136.46,492.75 C135.24,494.84 133.46,498.10 132.49,500.09 C131.52,502.08 130.50,503.19 130.65,504.67 C130.80,506.15 131.56,508.49 133.4,508.95 C135.24,509.41 138.75,507.80 141.66,507.42 C144.56,507.04 148.87,506.35 150.83,506.66 C152.79,506.97 153.43,508.39 153.43,509.26 C153.43,510.13 152.79,511.30 150.83,511.86 C148.87,512.42 144.72,512.19 141.66,512.62 C138.60,513.05 134.73,514.60 132.49,514.45 C130.25,514.30 129.33,512.77 128.21,511.7 C127.09,510.63 126.70,508.39 125.76,508.03 C124.82,507.67 123.59,508.59 122.55,509.56 C121.50,510.53 120.38,512.11 119.49,513.84 C118.60,515.57 117.71,518.10 117.2,519.96 C116.69,521.82 116.57,523.73 116.44,525.0 C116.31,526.27 117.03,527.17 116.44,527.6 C115.85,528.03 113.56,528.03 112.92,527.6 C112.28,527.17 112.91,526.53 112.61,525.0 C112.31,523.47 112.36,520.54 111.09,518.43 C109.82,516.31 107.14,514.60 104.97,512.31 C102.80,510.02 100.25,507.47 98.09,504.67 C95.93,501.87 93.76,498.81 91.98,495.5 C90.20,492.19 88.54,488.37 87.39,484.8 C86.24,481.23 85.61,477.92 85.1,474.1 C84.59,470.28 84.09,465.69 84.34,461.87 C84.59,458.05 85.36,454.48 86.63,451.17 C87.90,447.86 91.34,444.97 91.98,442.0 C92.62,439.03 90.83,436.08 90.45,433.37 C90.07,430.66 89.56,428.02 89.69,425.73 C89.82,423.44 90.83,421.09 91.21,419.61 C91.59,418.13 93.25,417.19 91.98,416.86 C90.71,416.53 86.24,417.38 83.57,417.63 C80.89,417.88 77.66,418.82 75.93,418.39 C74.20,417.96 73.44,416.61 73.18,415.03 C72.93,413.45 73.56,410.82 74.4,408.91 C75.24,407.00 76.69,404.07 78.22,403.56 C79.75,403.05 81.66,405.22 83.57,405.86 C85.48,406.50 88.03,406.63 89.69,407.39 C91.35,408.15 92.62,410.95 93.51,410.44 C94.40,409.93 94.15,406.37 95.04,404.33 C95.93,402.29 97.20,400.12 98.86,398.21 C100.52,396.30 103.06,394.39 104.97,392.86 C106.88,391.33 108.92,389.93 110.32,389.04 C111.72,388.15 112.54,387.00 113.38,387.51Z" fill="#f4f4f4" stroke="#f4f4f4" stroke-width="1.6" stroke-linejoin="round" filter="url(#shade)"/>
<ellipse cx="82.81" cy="411.21" rx="7.95" ry="5.50" transform="rotate(-15 82.81 411.21)" fill="#808080" opacity="0.32" filter="url(#soft)"/>
<clipPath id="u47"><path d="M101.15,484.04 L104.21,482.51 L107.26,480.21 L108.79,481.74 L107.26,485.56 L106.5,488.62 L103.44,488.62 L101.15,487.09Z"/></clipPath>
<path d="M101.15,484.04 L104.21,482.51 L107.26,480.21 L108.79,481.74 L107.26,485.56 L106.5,488.62 L103.44,488.62 L101.15,487.09Z" fill="#f03000"/>
<g clip-path="url(#u47)">
<radialGradient id="u48"><stop offset="0" stop-color="#ffb000"/><stop offset="0.5" stop-color="#ffb000" stop-opacity="0.75"/><stop offset="1" stop-color="#ffb000" stop-opacity="0"/></radialGradient>
<circle cx="104.21" cy="485.56" r="2.75" fill="url(#u48)"/>
</g>
<rect x="97.29" y="470.24" width="1.6" height="1.6" fill="#7a0000"/>
<rect x="101.11" y="469.02" width="1.6" height="1.6" fill="#7a0000"/>
<rect x="99.28" y="471.47" width="1.6" height="1.6" fill="#7a0000"/>
<rect x="98.06" y="473.61" width="1.6" height="1.6" fill="#7a0000"/>
<rect x="101.42" y="472.54" width="1.6" height="1.6" fill="#7a0000"/>
<rect x="103.51" y="392.16" width="1.4" height="1.4" fill="#c00000"/>
<rect x="103.20" y="401.34" width="1.4" height="1.4" fill="#c00000"/>
<rect x="119.10" y="418.15" width="1.4" height="1.4" fill="#c00000"/>
<rect x="113.75" y="428.85" width="1.4" height="1.4" fill="#c00000"/>
<rect x="110.39" y="433.74" width="1.4" height="1.4" fill="#c00000"/>
<rect x="131.89" y="373.46" width="1.2" height="1.2" fill="#ccc"/>
</g></g>
<clipPath id="pc5"><rect x="180" y="360.9" width="118.2" height="163.0"/></clipPath>
<g clip-path="url(#pc5)"><g filter="url(#blur)">
<rect x="176" y="356.9" width="126.2" height="171.0" fill="#353535"/>
<rect x="176" y="356.9" width="126.2" height="29.2" fill="#363636"/>
<rect x="176" y="356.9" width="126.2" height="7.2" fill="#2a2a2a"/>
<ellipse cx="289" cy="371.9" rx="6.5" ry="2.2" fill="#494949"/>
<ellipse cx="185" cy="371.9" rx="5" ry="2.5" fill="#454545"/>
<line x1="280" y1="361.4" x2="300.2" y2="366.9" stroke="#6c6c6c" stroke-width="1.6"/>
<rect x="281.00" y="386.10" width="21.20" height="141.80" fill="#3a3a3a"/>
<rect x="182.60" y="386.10" width="98.40" height="117.80" fill="#313131" stroke="#202020" stroke-width="0.9"/>
<rect x="176.00" y="504.30" width="126.20" height="24.60" fill="#303030"/>
<rect x="199.80" y="405.90" width="65.20" height="77.50" fill="#343434" stroke="#262626" stroke-width="0.9"/>
<rect x="200.60" y="364.70" width="11.40" height="21.40" fill="#3c3c3c"/>
<rect x="255.00" y="364.70" width="10.60" height="21.40" fill="#3c3c3c"/>
<rect x="217.50" y="364.70" width="32.10" height="29.20" fill="#2b2b2b"/>
<rect x="193.00" y="364.50" width="7.60" height="29.30" fill="#2a2a2a"/>
<rect x="194.40" y="364.50" width="5.00" height="28.70" fill="#151515"/>
<rect x="212.20" y="364.50" width="6.40" height="29.30" fill="#2a2a2a"/>
<rect x="213.60" y="364.50" width="3.80" height="28.70" fill="#151515"/>
<rect x="249.20" y="364.50" width="6.20" height="29.30" fill="#2a2a2a"/>
<rect x="250.60" y="364.50" width="3.60" height="28.70" fill="#151515"/>
<rect x="265.80" y="364.50" width="7.20" height="29.30" fill="#2a2a2a"/>
<rect x="267.20" y="364.50" width="4.60" height="28.70" fill="#151515"/>
<linearGradient id="u49" x1="0" x2="1" y1="0" y2="0"><stop offset="0" stop-color="#424242"/><stop offset="0.45" stop-color="#5e5e5e"/><stop offset="1" stop-color="#454545"/></linearGradient>
 <rect x="221.30" y="363.40" width="24.8" height="35.50" fill="url(#u49)"/>
<path d="M180,361.29999999999995 H297.8 V523.5 H180" fill="none" stroke="#1c1c1c" stroke-width="1"/>
<path d="M239.61,384.46 C240.38,384.97 241.35,387.26 241.91,389.04 C242.47,390.82 242.98,393.12 242.98,395.16 C242.98,397.20 242.34,399.23 241.91,401.27 C241.48,403.31 240.76,405.35 240.38,407.39 C240.00,409.43 239.48,411.33 239.61,413.5 C239.74,415.67 240.12,419.11 241.14,420.38 C242.16,421.65 244.33,421.78 245.73,421.14 C247.13,420.50 248.28,417.71 249.55,416.56 C250.82,415.41 252.25,414.39 253.37,414.26 C254.49,414.13 256.02,414.97 256.28,415.79 C256.53,416.61 255.90,418.22 254.9,419.16 C253.91,420.10 251.58,420.31 250.31,421.45 C249.04,422.59 248.02,424.04 247.26,426.03 C246.50,428.02 246.24,430.71 245.73,433.37 C245.22,436.03 243.94,439.29 244.2,442.0 C244.45,444.71 246.50,446.58 247.26,449.64 C248.02,452.70 248.41,456.77 248.79,460.34 C249.17,463.91 249.55,467.73 249.55,471.04 C249.55,474.35 248.92,477.41 248.79,480.21 C248.66,483.01 248.28,486.08 248.79,487.86 C249.30,489.64 250.31,490.91 251.84,490.91 C253.37,490.91 255.92,489.00 257.96,487.86 C260.00,486.72 262.29,484.73 264.07,484.04 C265.85,483.35 267.77,483.22 268.66,483.73 C269.55,484.24 269.93,485.89 269.42,487.09 C268.91,488.29 267.25,489.76 265.6,490.91 C263.95,492.06 260.00,493.08 259.49,493.97 C258.98,494.86 261.47,495.50 262.54,496.26 C263.61,497.02 265.60,497.82 265.91,498.56 C266.22,499.30 265.70,500.65 264.38,500.7 C263.06,500.75 260.05,499.29 257.96,498.86 C255.87,498.43 253.88,498.48 251.84,498.1 C249.80,497.72 247.26,496.44 245.73,496.57 C244.20,496.70 243.69,497.76 242.67,498.86 C241.65,499.96 240.37,501.15 239.61,503.14 C238.85,505.13 238.34,507.15 238.09,510.79 C237.84,514.43 238.09,522.20 238.09,525.0 C238.09,527.80 238.65,527.17 238.09,527.6 C237.53,528.03 235.28,528.03 234.72,527.6 C234.16,527.17 234.80,527.29 234.72,525.0 C234.64,522.71 234.59,516.97 234.26,513.84 C233.93,510.71 233.63,508.49 232.74,506.2 C231.85,503.91 230.44,502.38 228.91,500.09 C227.38,497.80 225.34,495.50 223.56,492.44 C221.78,489.38 219.61,485.31 218.21,481.74 C216.81,478.17 215.92,474.61 215.16,471.04 C214.40,467.47 213.83,463.91 213.63,460.34 C213.43,456.77 213.42,452.70 213.93,449.64 C214.44,446.58 216.36,444.71 216.69,442.0 C217.02,439.29 216.12,436.34 215.92,433.37 C215.71,430.40 215.33,426.90 215.46,424.2 C215.59,421.50 216.69,418.90 216.69,417.17 C216.69,415.44 216.10,415.19 215.46,413.81 C214.82,412.43 214.39,410.34 212.86,408.91 C211.33,407.48 207.74,406.52 206.29,405.25 C204.84,403.98 204.05,402.59 204.15,401.27 C204.25,399.94 205.37,398.12 206.9,397.3 C208.43,396.49 211.13,395.97 213.32,396.38 C215.51,396.79 218.17,398.75 220.05,399.74 C221.94,400.73 223.66,402.72 224.63,402.34 C225.60,401.96 225.15,399.03 225.86,397.45 C226.57,395.87 227.64,394.26 228.91,392.86 C230.18,391.46 232.10,390.19 233.5,389.04 C234.90,387.90 236.30,386.75 237.32,385.99 C238.34,385.23 238.85,383.95 239.61,384.46Z" fill="#f4f4f4" stroke="#f4f4f4" stroke-width="1.6" stroke-linejoin="round" filter="url(#shade)"/>
<ellipse cx="213.93" cy="404.63" rx="8.41" ry="5.50" transform="rotate(30 213.93 404.63)" fill="#808080" opacity="0.32" filter="url(#soft)"/>
<clipPath id="u50"><path d="M225.86,405.09 L228.91,405.86 L231.21,408.91 L234.26,408.15 L236.56,405.09 L237.78,408.91 L238.09,413.5 L239.31,418.85 L235.79,419.61 L231.21,418.85 L228.91,415.03 L229.68,411.21 L226.62,408.15Z"/></clipPath>
<path d="M225.86,405.09 L228.91,405.86 L231.21,408.91 L234.26,408.15 L236.56,405.09 L237.78,408.91 L238.09,413.5 L239.31,418.85 L235.79,419.61 L231.21,418.85 L228.91,415.03 L229.68,411.21 L226.62,408.15Z" fill="#5c0000"/>
<clipPath id="u51"><path d="M240.38,423.44 L245.73,423.89 L245.73,428.79 L244.51,434.9 L243.44,440.25 L241.91,434.9 L239.92,429.55Z"/></clipPath>
<path d="M240.38,423.44 L245.73,423.89 L245.73,428.79 L244.51,434.9 L243.44,440.25 L241.91,434.9 L239.92,429.55Z" fill="#5c0000"/>
<clipPath id="u52"><path d="M245.73,450.41 L248.02,451.17 L248.02,457.29 L248.79,463.4 L246.49,464.16 L245.73,458.81 L243.44,456.52 L245.42,454.23Z"/></clipPath>
<path d="M245.73,450.41 L248.02,451.17 L248.02,457.29 L248.79,463.4 L246.49,464.16 L245.73,458.81 L243.44,456.52 L245.42,454.23Z" fill="#6a0000"/>
<clipPath id="u53"><path d="M257.96,490.91 L261.01,487.09 L265.6,484.04 L268.66,484.8 L268.35,487.86 L264.07,490.91 L259.49,493.21Z"/></clipPath>
<path d="M257.96,490.91 L261.01,487.09 L265.6,484.04 L268.66,484.8 L268.35,487.86 L264.07,490.91 L259.49,493.21Z" fill="#6a0000"/>
<clipPath id="u54"><path d="M237.32,490.91 L241.14,488.62 L244.2,487.86 L247.26,490.15 L244.2,491.68 L240.38,492.44 L238.09,494.74Z"/></clipPath>
<path d="M237.32,490.91 L241.14,488.62 L244.2,487.86 L247.26,490.15 L244.2,491.68 L240.38,492.44 L238.09,494.74Z" fill="#700000"/>
<rect x="247.68" y="373.26" width="1.6" height="1.6" fill="#900000"/>
<rect x="258.69" y="374.03" width="1.6" height="1.6" fill="#900000"/>
<rect x="233.01" y="381.67" width="1.6" height="1.6" fill="#900000"/>
<rect x="237.29" y="394.36" width="1.6" height="1.6" fill="#900000"/>
<rect x="240.65" y="394.36" width="1.6" height="1.6" fill="#900000"/>
<rect x="238.05" y="389.77" width="1.6" height="1.6" fill="#900000"/>
<rect x="230.97" y="444.36" width="1.4" height="1.4" fill="#800000"/>
<rect x="223.93" y="447.72" width="1.4" height="1.4" fill="#800000"/>
<rect x="241.97" y="442.06" width="1.4" height="1.4" fill="#800000"/>
<rect x="228.52" y="480.28" width="1.4" height="1.4" fill="#800000"/>
<rect x="224.39" y="479.51" width="1.4" height="1.4" fill="#800000"/>
<rect x="232.04" y="485.63" width="1.4" height="1.4" fill="#800000"/>
<rect x="258.79" y="497.09" width="1.4" height="1.4" fill="#800000"/>
<rect x="263.37" y="497.86" width="1.4" height="1.4" fill="#800000"/>
</g></g>
<text x="282.6" y="519.8" font-size="3.2" font-weight="normal" font-family="&quot;Liberation Sans&quot;, sans-serif" fill="#cfcfcf" text-anchor="start" textLength="13" lengthAdjust="spacingAndGlyphs" >Min= 1.31e6</text>
<text x="281.6" y="523.3" font-size="3.2" font-weight="normal" font-family="&quot;Liberation Sans&quot;, sans-serif" fill="#cfcfcf" text-anchor="start" textLength="14" lengthAdjust="spacingAndGlyphs" >Max= 1.72e6</text>
<text x="21.2" y="14.9" font-size="19" font-weight="bold" font-family="&quot;Liberation Sans&quot;, sans-serif" fill="#000" text-anchor="start" >a</text>
<text x="79.6" y="14.3" font-size="14.8" font-weight="bold" font-family="&quot;Liberation Sans&quot;, sans-serif" fill="#000" text-anchor="start" textLength="74.4" lengthAdjust="spacingAndGlyphs" >THLG-EXO</text>
<text x="210.6" y="14.8" font-size="14.8" font-weight="bold" font-family="&quot;Liberation Sans&quot;, sans-serif" fill="#000" text-anchor="start" textLength="55.6" lengthAdjust="spacingAndGlyphs" >LG-EXO</text>
<text x="2.9" y="118" font-size="16.8" font-weight="bold" font-family="&quot;Liberation Sans&quot;, sans-serif" fill="#000" text-anchor="start" textLength="37.4" lengthAdjust="spacingAndGlyphs" >0.5 h</text>
<text x="17.2" y="289.8" font-size="16.8" font-weight="bold" font-family="&quot;Liberation Sans&quot;, sans-serif" fill="#000" text-anchor="start" textLength="23.2" lengthAdjust="spacingAndGlyphs" >3 h</text>
<text x="21.3" y="461.6" font-size="16.8" font-weight="bold" font-family="&quot;Liberation Sans&quot;, sans-serif" fill="#000" text-anchor="start" textLength="23.0" lengthAdjust="spacingAndGlyphs" >6 h</text>
<defs><linearGradient id="cb" x1="0" y1="0" x2="0" y2="1">
<stop offset="0" stop-color="#ffff00"/><stop offset="0.06" stop-color="#fff400"/><stop offset="0.2" stop-color="#ffb400"/>
<stop offset="0.33" stop-color="#ff7a00"/><stop offset="0.46" stop-color="#ff3c00"/><stop offset="0.55" stop-color="#ff0800"/>
<stop offset="0.62" stop-color="#f00000"/><stop offset="0.8" stop-color="#a80000"/><stop offset="0.93" stop-color="#6a0000"/><stop offset="1" stop-color="#4a0000"/></linearGradient></defs>
<rect x="310.7" y="51" width="9.8" height="401" fill="url(#cb)"/>
<rect x="310.7" y="50.6" width="14" height="0.9" fill="#333"/>
<rect x="320.3" y="51" width="0.7" height="401" fill="#444"/>
<rect x="320.5" y="63.75" width="6.2" height="0.9" fill="#222"/>
<text x="329.6" y="65.0" font-size="8" font-weight="normal" font-family="&quot;Liberation Serif&quot;, serif" fill="#222" text-anchor="start" textLength="9.2" lengthAdjust="spacingAndGlyphs" >1.4</text>
<rect x="320.5" y="77.63" width="4.2" height="0.9" fill="#222"/>
<rect x="320.5" y="91.51" width="4.2" height="0.9" fill="#222"/>
<rect x="320.5" y="105.39" width="4.2" height="0.9" fill="#222"/>
<rect x="320.5" y="119.27" width="4.2" height="0.9" fill="#222"/>
<rect x="320.5" y="133.15" width="6.2" height="0.9" fill="#222"/>
<text x="329.6" y="134.4" font-size="8" font-weight="normal" font-family="&quot;Liberation Serif&quot;, serif" fill="#222" text-anchor="start" textLength="9.2" lengthAdjust="spacingAndGlyphs" >1.2</text>
<rect x="320.5" y="147.03" width="4.2" height="0.9" fill="#222"/>
<rect x="320.5" y="160.91" width="4.2" height="0.9" fill="#222"/>
<rect x="320.5" y="174.79" width="4.2" height="0.9" fill="#222"/>
<rect x="320.5" y="188.67" width="4.2" height="0.9" fill="#222"/>
<rect x="320.5" y="202.55" width="6.2" height="0.9" fill="#222"/>
<text x="329.6" y="203.8" font-size="8" font-weight="normal" font-family="&quot;Liberation Serif&quot;, serif" fill="#222" text-anchor="start" textLength="9.2" lengthAdjust="spacingAndGlyphs" >1.0</text>
<rect x="320.5" y="216.43" width="4.2" height="0.9" fill="#222"/>
<rect x="320.5" y="230.31" width="4.2" height="0.9" fill="#222"/>
<rect x="320.5" y="244.19" width="4.2" height="0.9" fill="#222"/>
<rect x="320.5" y="258.07" width="4.2" height="0.9" fill="#222"/>
<rect x="320.5" y="271.95" width="6.2" height="0.9" fill="#222"/>
<text x="329.6" y="273.2" font-size="8" font-weight="normal" font-family="&quot;Liberation Serif&quot;, serif" fill="#222" text-anchor="start" textLength="9.2" lengthAdjust="spacingAndGlyphs" >0.8</text>
<rect x="320.5" y="285.83" width="4.2" height="0.9" fill="#222"/>
<rect x="320.5" y="299.71" width="4.2" height="0.9" fill="#222"/>
<rect x="320.5" y="313.59" width="4.2" height="0.9" fill="#222"/>
<rect x="320.5" y="327.47" width="4.2" height="0.9" fill="#222"/>
<rect x="320.5" y="341.35" width="6.2" height="0.9" fill="#222"/>
<text x="329.6" y="342.6" font-size="8" font-weight="normal" font-family="&quot;Liberation Serif&quot;, serif" fill="#222" text-anchor="start" textLength="9.2" lengthAdjust="spacingAndGlyphs" >0.6</text>
<rect x="320.5" y="355.23" width="4.2" height="0.9" fill="#222"/>
<rect x="320.5" y="369.11" width="4.2" height="0.9" fill="#222"/>
<rect x="320.5" y="382.99" width="4.2" height="0.9" fill="#222"/>
<rect x="320.5" y="396.87" width="4.2" height="0.9" fill="#222"/>
<rect x="320.5" y="410.75" width="6.2" height="0.9" fill="#222"/>
<text x="329.6" y="412.0" font-size="8" font-weight="normal" font-family="&quot;Liberation Serif&quot;, serif" fill="#222" text-anchor="start" textLength="9.2" lengthAdjust="spacingAndGlyphs" >0.4</text>
<rect x="320.5" y="424.63" width="4.2" height="0.9" fill="#222"/>
<rect x="320.5" y="438.51" width="4.2" height="0.9" fill="#222"/>
<text x="344.2" y="251.7" font-size="8" font-weight="normal" font-family="&quot;Liberation Serif&quot;, serif" fill="#222" text-anchor="start" textLength="11.5" lengthAdjust="spacingAndGlyphs" >x10</text>
<text x="356.3" y="247.7" font-size="7.5" font-weight="normal" font-family="&quot;Liberation Serif&quot;, serif" fill="#222" text-anchor="start" >8</text>
<text x="310.5" y="39.4" font-size="7.6" font-weight="normal" font-family="&quot;Liberation Sans&quot;, sans-serif" fill="#222" text-anchor="start" textLength="49.2" lengthAdjust="spacingAndGlyphs" >Epi-fluorescence</text>
<text x="310.5" y="474.8" font-size="8" font-weight="normal" font-family="&quot;Liberation Sans&quot;, sans-serif" fill="#262626" text-anchor="start" textLength="53.3" lengthAdjust="spacingAndGlyphs" >Radiant Efficiency</text>
<text x="310.6" y="487.6" font-size="9" font-weight="normal" font-family="&quot;Liberation Sans&quot;, sans-serif" fill="#262626" text-anchor="start" >(</text>
<text x="352.6" y="487.6" font-size="9" font-weight="normal" font-family="&quot;Liberation Sans&quot;, sans-serif" fill="#262626" text-anchor="start" >)</text>
<text x="314.3" y="484.3" font-size="7.4" font-weight="normal" font-family="&quot;Liberation Sans&quot;, sans-serif" fill="#262626" text-anchor="start" textLength="37.4" lengthAdjust="spacingAndGlyphs" >p/sec/cm²/sr</text>
<rect x="313.6" y="485.4" width="38.6" height="0.8" fill="#444"/>
<text x="323.9" y="494.3" font-size="7.4" font-weight="normal" font-family="&quot;Liberation Sans&quot;, sans-serif" fill="#262626" text-anchor="start" textLength="24" lengthAdjust="spacingAndGlyphs" >µW/cm²</text>
<rect x="310.8" y="506.4" width="46.8" height="34" fill="#fff" stroke="#555" stroke-width="0.9"/>
<text x="312.6" y="516.2" font-size="8" font-weight="normal" font-family="&quot;Liberation Sans&quot;, sans-serif" fill="#222" text-anchor="start" textLength="32" lengthAdjust="spacingAndGlyphs" >Color Scale</text>
<text x="312.6" y="525.4" font-size="8" font-weight="normal" font-family="&quot;Liberation Sans&quot;, sans-serif" fill="#222" text-anchor="start" textLength="40" lengthAdjust="spacingAndGlyphs" >Min = 2.83e7</text>
<text x="312.6" y="534.6" font-size="8" font-weight="normal" font-family="&quot;Liberation Sans&quot;, sans-serif" fill="#222" text-anchor="start" textLength="42" lengthAdjust="spacingAndGlyphs" >Max = 1.44e8</text>
<text x="431.8" y="26" font-size="19" font-weight="bold" font-family="&quot;Liberation Sans&quot;, sans-serif" fill="#000" text-anchor="start" >b</text>
<rect x="535.2" y="38.7" width="3.1" height="183.4" fill="#000"/>
<rect x="531.4" y="218.95" width="237.29999999999995" height="3.1" fill="#000"/>
<rect x="531.4" y="38.70" width="4" height="2.6" fill="#000"/>
<text x="461.0" y="45.1" font-size="14.5" font-weight="bold" font-family="&quot;Liberation Sans&quot;, sans-serif" fill="#000" text-anchor="start" textLength="60.6" lengthAdjust="spacingAndGlyphs" >1.00E+05</text>
<rect x="531.4" y="83.83" width="4" height="2.6" fill="#000"/>
<text x="461.0" y="90.22" font-size="14.5" font-weight="bold" font-family="&quot;Liberation Sans&quot;, sans-serif" fill="#000" text-anchor="start" textLength="60.6" lengthAdjust="spacingAndGlyphs" >1.00E+04</text>
<rect x="531.4" y="128.95" width="4" height="2.6" fill="#000"/>
<text x="461.0" y="135.35" font-size="14.5" font-weight="bold" font-family="&quot;Liberation Sans&quot;, sans-serif" fill="#000" text-anchor="start" textLength="60.6" lengthAdjust="spacingAndGlyphs" >1.00E+03</text>
<rect x="531.4" y="174.07" width="4" height="2.6" fill="#000"/>
<text x="461.0" y="180.47" font-size="14.5" font-weight="bold" font-family="&quot;Liberation Sans&quot;, sans-serif" fill="#000" text-anchor="start" textLength="60.6" lengthAdjust="spacingAndGlyphs" >1.00E+02</text>
<text x="461.0" y="225.6" font-size="14.5" font-weight="bold" font-family="&quot;Liberation Sans&quot;, sans-serif" fill="#000" text-anchor="start" textLength="60.6" lengthAdjust="spacingAndGlyphs" >1.00E+01</text>
<rect x="573.50" y="220.5" width="2.6" height="5.8" fill="#000"/>
<rect x="650.70" y="220.5" width="2.6" height="5.8" fill="#000"/>
<rect x="727.80" y="220.5" width="2.6" height="5.8" fill="#000"/>
<rect x="766.10" y="220.5" width="2.6" height="5.8" fill="#000"/>
<text x="556.6" y="246.8" font-size="14.5" font-weight="bold" font-family="&quot;Liberation Sans&quot;, sans-serif" fill="#000" text-anchor="start" textLength="32.8" lengthAdjust="spacingAndGlyphs" >0.5 h</text>
<text x="642.6" y="246.8" font-size="14.5" font-weight="bold" font-family="&quot;Liberation Sans&quot;, sans-serif" fill="#000" text-anchor="start" textLength="20.3" lengthAdjust="spacingAndGlyphs" >3 h</text>
<text x="719.8" y="246.8" font-size="14.5" font-weight="bold" font-family="&quot;Liberation Sans&quot;, sans-serif" fill="#000" text-anchor="start" textLength="20.3" lengthAdjust="spacingAndGlyphs" >6 h</text>
<text x="625.6" y="40.3" font-size="16.2" font-weight="bold" font-family="&quot;Liberation Sans&quot;, sans-serif" fill="#000" text-anchor="start" textLength="49.4" lengthAdjust="spacingAndGlyphs" >Tumor</text>
<polyline points="574.8,88.6 652,83.7 729,102.9" fill="none" stroke="#4f81bd" stroke-width="3" stroke-dasharray="6 6" stroke-linecap="round" stroke-linejoin="round"/>
<polygon points="574.8,80.8 582.8,96.39999999999999 566.8,96.39999999999999" fill="#4f81bd"/>
<polygon points="652,75.9 660.0,91.5 644.0,91.5" fill="#4f81bd"/>
<polygon points="729,95.10000000000001 737.0,110.7 721.0,110.7" fill="#4f81bd"/>
<polyline points="574.8,106.1 652,128.7 729,161.6" fill="none" stroke="#c0504d" stroke-width="3" stroke-dasharray="6 6" stroke-linecap="round" stroke-linejoin="round"/>
<polygon points="574.8,98.3 582.5999999999999,106.1 574.8,113.89999999999999 567.0,106.1" fill="#c0504d"/>
<polygon points="652,120.89999999999999 659.8,128.7 652,136.5 644.2,128.7" fill="#c0504d"/>
<polygon points="729,153.79999999999998 736.8,161.6 729,169.4 721.2,161.6" fill="#c0504d"/>
<text x="648.6" y="78.3" font-size="20.5" font-weight="bold" font-family="&quot;DejaVu Sans&quot;, sans-serif" fill="#000" text-anchor="middle" >*</text>
<text x="662.4" y="78.3" font-size="20.5" font-weight="bold" font-family="&quot;DejaVu Sans&quot;, sans-serif" fill="#000" text-anchor="middle" >*</text>
<text x="724.6" y="96.3" font-size="20.5" font-weight="bold" font-family="&quot;DejaVu Sans&quot;, sans-serif" fill="#000" text-anchor="middle" >*</text>
<text x="738.4" y="96.3" font-size="20.5" font-weight="bold" font-family="&quot;DejaVu Sans&quot;, sans-serif" fill="#000" text-anchor="middle" >*</text>
<line x1="552.6" y1="176.3" x2="577.2" y2="176.3" stroke="#4f81bd" stroke-width="2.4" stroke-dasharray="3.8 15.4" stroke-dashoffset="-1.1" stroke-linecap="round"/>
<polygon points="564.6,171.3 569.7,181.3 559.5,181.3" fill="#4f81bd"/>
<line x1="552.6" y1="198.9" x2="577.2" y2="198.9" stroke="#c0504d" stroke-width="2.4" stroke-dasharray="3.8 15.4" stroke-dashoffset="-1.1" stroke-linecap="round"/>
<polygon points="564.6,193.70000000000002 569.8000000000001,198.9 564.6,204.1 559.4,198.9" fill="#c0504d"/>
<text x="578.7" y="181.3" font-size="14.6" font-weight="bold" font-family="&quot;Liberation Sans&quot;, sans-serif" fill="#000" text-anchor="start" textLength="67.8" lengthAdjust="spacingAndGlyphs" >THLG-EXO</text>
<text x="578.7" y="203.8" font-size="14.6" font-weight="bold" font-family="&quot;Liberation Sans&quot;, sans-serif" fill="#000" text-anchor="start" textLength="49.2" lengthAdjust="spacingAndGlyphs" >LG-EXO</text>
<text transform="translate(421.5,126.5) rotate(-90)" font-size="15.8" font-weight="bold" font-family="&quot;Liberation Sans&quot;, sans-serif" text-anchor="middle" textLength="161.5" lengthAdjust="spacingAndGlyphs">Relative fluorescence</text>
<text transform="translate(444.8,137.2) rotate(-90)" font-size="15.8" font-weight="bold" font-family="&quot;Liberation Sans&quot;, sans-serif" text-anchor="middle" textLength="78.2" lengthAdjust="spacingAndGlyphs">intensities</text>
<rect x="535.2" y="332.8" width="3.1" height="172.49999999999997" fill="#000"/>
<rect x="531.4" y="502.15" width="237.29999999999995" height="3.1" fill="#000"/>
<rect x="531.4" y="332.80" width="4" height="2.6" fill="#000"/>
<text x="461.0" y="339.2" font-size="14.5" font-weight="bold" font-family="&quot;Liberation Sans&quot;, sans-serif" fill="#000" text-anchor="start" textLength="60.6" lengthAdjust="spacingAndGlyphs" >1.00E+05</text>
<rect x="531.4" y="375.20" width="4" height="2.6" fill="#000"/>
<text x="461.0" y="381.6" font-size="14.5" font-weight="bold" font-family="&quot;Liberation Sans&quot;, sans-serif" fill="#000" text-anchor="start" textLength="60.6" lengthAdjust="spacingAndGlyphs" >1.00E+04</text>
<rect x="531.4" y="417.60" width="4" height="2.6" fill="#000"/>
<text x="461.0" y="424.0" font-size="14.5" font-weight="bold" font-family="&quot;Liberation Sans&quot;, sans-serif" fill="#000" text-anchor="start" textLength="60.6" lengthAdjust="spacingAndGlyphs" >1.00E+03</text>
<rect x="531.4" y="460.00" width="4" height="2.6" fill="#000"/>
<text x="461.0" y="466.4" font-size="14.5" font-weight="bold" font-family="&quot;Liberation Sans&quot;, sans-serif" fill="#000" text-anchor="start" textLength="60.6" lengthAdjust="spacingAndGlyphs" >1.00E+02</text>
<text x="461.0" y="508.8" font-size="14.5" font-weight="bold" font-family="&quot;Liberation Sans&quot;, sans-serif" fill="#000" text-anchor="start" textLength="60.6" lengthAdjust="spacingAndGlyphs" >1.00E+01</text>
<rect x="573.50" y="503.7" width="2.6" height="5.8" fill="#000"/>
<rect x="650.70" y="503.7" width="2.6" height="5.8" fill="#000"/>
<rect x="727.80" y="503.7" width="2.6" height="5.8" fill="#000"/>
<rect x="766.10" y="503.7" width="2.6" height="5.8" fill="#000"/>
<text x="564.0" y="526.8" font-size="14.5" font-weight="bold" font-family="&quot;Liberation Sans&quot;, sans-serif" fill="#000" text-anchor="start" textLength="32.8" lengthAdjust="spacingAndGlyphs" >0.5 h</text>
<text x="644.3" y="526.8" font-size="14.5" font-weight="bold" font-family="&quot;Liberation Sans&quot;, sans-serif" fill="#000" text-anchor="start" textLength="20.3" lengthAdjust="spacingAndGlyphs" >3 h</text>
<text x="721.2" y="526.8" font-size="14.5" font-weight="bold" font-family="&quot;Liberation Sans&quot;, sans-serif" fill="#000" text-anchor="start" textLength="20.3" lengthAdjust="spacingAndGlyphs" >6 h</text>
<text x="638.8" y="343.2" font-size="16.2" font-weight="bold" font-family="&quot;Liberation Sans&quot;, sans-serif" fill="#000" text-anchor="start" textLength="36.2" lengthAdjust="spacingAndGlyphs" >Liver</text>
<polyline points="574.8,392.6 652,395.8 729,415.6" fill="none" stroke="#4f81bd" stroke-width="3" stroke-dasharray="6 6" stroke-linecap="round" stroke-linejoin="round"/>
<polygon points="574.8,384.8 582.8,400.40000000000003 566.8,400.40000000000003" fill="#4f81bd"/>
<polygon points="652,388.0 660.0,403.6 644.0,403.6" fill="#4f81bd"/>
<polygon points="729,407.8 737.0,423.40000000000003 721.0,423.40000000000003" fill="#4f81bd"/>
<polyline points="574.8,390.4 652,372.9 729,418.9" fill="none" stroke="#c0504d" stroke-width="3" stroke-dasharray="6 6" stroke-linecap="round" stroke-linejoin="round"/>
<polygon points="574.8,382.59999999999997 582.5999999999999,390.4 574.8,398.2 567.0,390.4" fill="#c0504d"/>
<polygon points="652,365.09999999999997 659.8,372.9 652,380.7 644.2,372.9" fill="#c0504d"/>
<polygon points="729,411.09999999999997 736.8,418.9 729,426.7 721.2,418.9" fill="#c0504d"/>
<text x="653.1" y="394.6" font-size="20.5" font-weight="bold" font-family="&quot;DejaVu Sans&quot;, sans-serif" fill="#000" text-anchor="middle" >*</text>
<line x1="550.4" y1="466.3" x2="575.0" y2="466.3" stroke="#4f81bd" stroke-width="2.4" stroke-dasharray="3.8 15.4" stroke-dashoffset="-1.1" stroke-linecap="round"/>
<polygon points="562.4,461.3 567.5,471.3 557.3,471.3" fill="#4f81bd"/>
<line x1="550.4" y1="486.7" x2="575.0" y2="486.7" stroke="#c0504d" stroke-width="2.4" stroke-dasharray="3.8 15.4" stroke-dashoffset="-1.1" stroke-linecap="round"/>
<polygon points="562.4,481.5 567.6,486.7 562.4,491.9 557.1999999999999,486.7" fill="#c0504d"/>
<text x="576.6" y="471.3" font-size="14.6" font-weight="bold" font-family="&quot;Liberation Sans&quot;, sans-serif" fill="#000" text-anchor="start" textLength="67.8" lengthAdjust="spacingAndGlyphs" >THLG-EXO</text>
<text x="576.6" y="491.59999999999997" font-size="14.6" font-weight="bold" font-family="&quot;Liberation Sans&quot;, sans-serif" fill="#000" text-anchor="start" textLength="49.2" lengthAdjust="spacingAndGlyphs" >LG-EXO</text>
<text transform="translate(421.5,419.1) rotate(-90)" font-size="15.8" font-weight="bold" font-family="&quot;Liberation Sans&quot;, sans-serif" text-anchor="middle" textLength="161.5" lengthAdjust="spacingAndGlyphs">Relative fluorescence</text>
<text transform="translate(444.8,425.2) rotate(-90)" font-size="15.8" font-weight="bold" font-family="&quot;Liberation Sans&quot;, sans-serif" text-anchor="middle" textLength="78.2" lengthAdjust="spacingAndGlyphs">intensities</text>
</svg></body></html>
